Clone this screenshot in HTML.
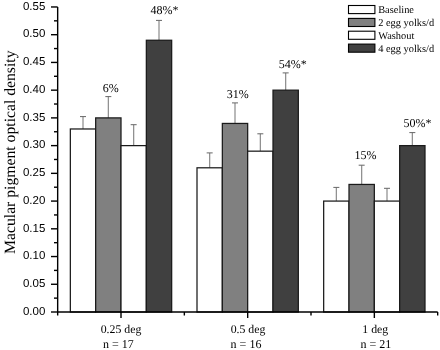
<!DOCTYPE html>
<html><head><meta charset="utf-8"><style>
html,body{margin:0;padding:0;background:#fff;}
body{width:440px;height:350px;overflow:hidden;}
svg{display:block;filter:grayscale(1);text-rendering:geometricPrecision;}
</style></head><body>
<svg width="440" height="350" viewBox="0 0 440 350">
<rect x="0" y="0" width="440" height="350" fill="#fff"/>
<line x1="83.00" y1="128.98" x2="83.00" y2="116.60" stroke="#8a8a8a" stroke-width="1.2"/>
<line x1="80.00" y1="116.60" x2="86.00" y2="116.60" stroke="#666" stroke-width="1.0"/>
<line x1="108.34" y1="117.89" x2="108.34" y2="96.60" stroke="#8a8a8a" stroke-width="1.2"/>
<line x1="105.34" y1="96.60" x2="111.34" y2="96.60" stroke="#666" stroke-width="1.0"/>
<line x1="133.67" y1="145.62" x2="133.67" y2="124.70" stroke="#8a8a8a" stroke-width="1.2"/>
<line x1="130.67" y1="124.70" x2="136.67" y2="124.70" stroke="#666" stroke-width="1.0"/>
<line x1="159.00" y1="40.25" x2="159.00" y2="20.40" stroke="#8a8a8a" stroke-width="1.2"/>
<line x1="156.00" y1="20.40" x2="162.00" y2="20.40" stroke="#666" stroke-width="1.0"/>
<line x1="209.67" y1="167.80" x2="209.67" y2="152.90" stroke="#8a8a8a" stroke-width="1.2"/>
<line x1="206.67" y1="152.90" x2="212.67" y2="152.90" stroke="#666" stroke-width="1.0"/>
<line x1="235.00" y1="123.44" x2="235.00" y2="102.90" stroke="#8a8a8a" stroke-width="1.2"/>
<line x1="232.00" y1="102.90" x2="238.00" y2="102.90" stroke="#666" stroke-width="1.0"/>
<line x1="260.34" y1="151.17" x2="260.34" y2="133.80" stroke="#8a8a8a" stroke-width="1.2"/>
<line x1="257.34" y1="133.80" x2="263.34" y2="133.80" stroke="#666" stroke-width="1.0"/>
<line x1="285.67" y1="90.16" x2="285.67" y2="72.90" stroke="#8a8a8a" stroke-width="1.2"/>
<line x1="282.67" y1="72.90" x2="288.67" y2="72.90" stroke="#666" stroke-width="1.0"/>
<line x1="336.34" y1="201.08" x2="336.34" y2="187.40" stroke="#8a8a8a" stroke-width="1.2"/>
<line x1="333.34" y1="187.40" x2="339.34" y2="187.40" stroke="#666" stroke-width="1.0"/>
<line x1="361.67" y1="184.44" x2="361.67" y2="165.20" stroke="#8a8a8a" stroke-width="1.2"/>
<line x1="358.67" y1="165.20" x2="364.67" y2="165.20" stroke="#666" stroke-width="1.0"/>
<line x1="387.00" y1="201.08" x2="387.00" y2="188.30" stroke="#8a8a8a" stroke-width="1.2"/>
<line x1="384.00" y1="188.30" x2="390.00" y2="188.30" stroke="#666" stroke-width="1.0"/>
<line x1="412.34" y1="145.62" x2="412.34" y2="132.60" stroke="#8a8a8a" stroke-width="1.2"/>
<line x1="409.34" y1="132.60" x2="415.34" y2="132.60" stroke="#666" stroke-width="1.0"/>
<rect x="70.34" y="128.98" width="25.33" height="183.02" fill="#ffffff" stroke="#1a1a1a" stroke-width="1.25"/>
<rect x="95.67" y="117.89" width="25.33" height="194.11" fill="#808080" stroke="#1a1a1a" stroke-width="1.25"/>
<rect x="121.00" y="145.62" width="25.33" height="166.38" fill="#ffffff" stroke="#1a1a1a" stroke-width="1.25"/>
<rect x="146.34" y="40.25" width="25.33" height="271.75" fill="#404040" stroke="#1a1a1a" stroke-width="1.25"/>
<rect x="197.00" y="167.80" width="25.33" height="144.20" fill="#ffffff" stroke="#1a1a1a" stroke-width="1.25"/>
<rect x="222.34" y="123.44" width="25.33" height="188.56" fill="#808080" stroke="#1a1a1a" stroke-width="1.25"/>
<rect x="247.67" y="151.17" width="25.33" height="160.83" fill="#ffffff" stroke="#1a1a1a" stroke-width="1.25"/>
<rect x="273.00" y="90.16" width="25.33" height="221.84" fill="#404040" stroke="#1a1a1a" stroke-width="1.25"/>
<rect x="323.67" y="201.08" width="25.33" height="110.92" fill="#ffffff" stroke="#1a1a1a" stroke-width="1.25"/>
<rect x="349.00" y="184.44" width="25.33" height="127.56" fill="#808080" stroke="#1a1a1a" stroke-width="1.25"/>
<rect x="374.34" y="201.08" width="25.33" height="110.92" fill="#ffffff" stroke="#1a1a1a" stroke-width="1.25"/>
<rect x="399.67" y="145.62" width="25.33" height="166.38" fill="#404040" stroke="#1a1a1a" stroke-width="1.25"/>
<line x1="57.67" y1="7" x2="57.67" y2="315.5" stroke="#000" stroke-width="1.4"/>
<line x1="57.67" y1="312.0" x2="437.67" y2="312.0" stroke="#000" stroke-width="1.4"/>
<line x1="51" y1="312.00" x2="57.67" y2="312.00" stroke="#000" stroke-width="1.4"/>
<text x="45.3" y="314.70" text-anchor="end" font-family="Liberation Sans" font-size="11.5">0.00</text>
<line x1="54" y1="298.13" x2="57.67" y2="298.13" stroke="#000" stroke-width="1.4"/>
<line x1="51" y1="284.27" x2="57.67" y2="284.27" stroke="#000" stroke-width="1.4"/>
<text x="45.3" y="286.97" text-anchor="end" font-family="Liberation Sans" font-size="11.5">0.05</text>
<line x1="54" y1="270.40" x2="57.67" y2="270.40" stroke="#000" stroke-width="1.4"/>
<line x1="51" y1="256.54" x2="57.67" y2="256.54" stroke="#000" stroke-width="1.4"/>
<text x="45.3" y="259.24" text-anchor="end" font-family="Liberation Sans" font-size="11.5">0.10</text>
<line x1="54" y1="242.68" x2="57.67" y2="242.68" stroke="#000" stroke-width="1.4"/>
<line x1="51" y1="228.81" x2="57.67" y2="228.81" stroke="#000" stroke-width="1.4"/>
<text x="45.3" y="231.51" text-anchor="end" font-family="Liberation Sans" font-size="11.5">0.15</text>
<line x1="54" y1="214.94" x2="57.67" y2="214.94" stroke="#000" stroke-width="1.4"/>
<line x1="51" y1="201.08" x2="57.67" y2="201.08" stroke="#000" stroke-width="1.4"/>
<text x="45.3" y="203.78" text-anchor="end" font-family="Liberation Sans" font-size="11.5">0.20</text>
<line x1="54" y1="187.21" x2="57.67" y2="187.21" stroke="#000" stroke-width="1.4"/>
<line x1="51" y1="173.35" x2="57.67" y2="173.35" stroke="#000" stroke-width="1.4"/>
<text x="45.3" y="176.05" text-anchor="end" font-family="Liberation Sans" font-size="11.5">0.25</text>
<line x1="54" y1="159.48" x2="57.67" y2="159.48" stroke="#000" stroke-width="1.4"/>
<line x1="51" y1="145.62" x2="57.67" y2="145.62" stroke="#000" stroke-width="1.4"/>
<text x="45.3" y="148.32" text-anchor="end" font-family="Liberation Sans" font-size="11.5">0.30</text>
<line x1="54" y1="131.75" x2="57.67" y2="131.75" stroke="#000" stroke-width="1.4"/>
<line x1="51" y1="117.89" x2="57.67" y2="117.89" stroke="#000" stroke-width="1.4"/>
<text x="45.3" y="120.59" text-anchor="end" font-family="Liberation Sans" font-size="11.5">0.35</text>
<line x1="54" y1="104.02" x2="57.67" y2="104.02" stroke="#000" stroke-width="1.4"/>
<line x1="51" y1="90.16" x2="57.67" y2="90.16" stroke="#000" stroke-width="1.4"/>
<text x="45.3" y="92.86" text-anchor="end" font-family="Liberation Sans" font-size="11.5">0.40</text>
<line x1="54" y1="76.29" x2="57.67" y2="76.29" stroke="#000" stroke-width="1.4"/>
<line x1="51" y1="62.43" x2="57.67" y2="62.43" stroke="#000" stroke-width="1.4"/>
<text x="45.3" y="65.13" text-anchor="end" font-family="Liberation Sans" font-size="11.5">0.45</text>
<line x1="54" y1="48.56" x2="57.67" y2="48.56" stroke="#000" stroke-width="1.4"/>
<line x1="51" y1="34.70" x2="57.67" y2="34.70" stroke="#000" stroke-width="1.4"/>
<text x="45.3" y="37.40" text-anchor="end" font-family="Liberation Sans" font-size="11.5">0.50</text>
<line x1="54" y1="20.83" x2="57.67" y2="20.83" stroke="#000" stroke-width="1.4"/>
<line x1="51" y1="6.97" x2="57.67" y2="6.97" stroke="#000" stroke-width="1.4"/>
<text x="45.3" y="9.67" text-anchor="end" font-family="Liberation Sans" font-size="11.5">0.55</text>
<line x1="121.00" y1="312.0" x2="121.00" y2="318" stroke="#000" stroke-width="1.4"/>
<line x1="184.34" y1="312.0" x2="184.34" y2="315.5" stroke="#000" stroke-width="1.4"/>
<line x1="247.67" y1="312.0" x2="247.67" y2="318" stroke="#000" stroke-width="1.4"/>
<line x1="311.00" y1="312.0" x2="311.00" y2="315.5" stroke="#000" stroke-width="1.4"/>
<line x1="374.34" y1="312.0" x2="374.34" y2="318" stroke="#000" stroke-width="1.4"/>
<line x1="437.67" y1="312.0" x2="437.67" y2="315.5" stroke="#000" stroke-width="1.4"/>
<text x="121.0" y="332.7" text-anchor="middle" font-family="Liberation Serif" font-size="11.8">0.25 deg</text>
<text x="118.3" y="348.2" text-anchor="middle" font-family="Liberation Serif" font-size="12">n = 17</text>
<text x="248.0" y="332.7" text-anchor="middle" font-family="Liberation Serif" font-size="11.8">0.5 deg</text>
<text x="246.0" y="348.2" text-anchor="middle" font-family="Liberation Serif" font-size="12">n = 16</text>
<text x="375.3" y="332.7" text-anchor="middle" font-family="Liberation Serif" font-size="11.8">1 deg</text>
<text x="375.8" y="348.2" text-anchor="middle" font-family="Liberation Serif" font-size="12">n = 21</text>
<text x="110.85" y="91.70" text-anchor="middle" font-family="Liberation Serif" font-size="12">6%</text>
<text x="164.60" y="14.10" text-anchor="middle" font-family="Liberation Serif" font-size="12">48%*</text>
<text x="237.85" y="98.00" text-anchor="middle" font-family="Liberation Serif" font-size="12">31%</text>
<text x="292.85" y="68.20" text-anchor="middle" font-family="Liberation Serif" font-size="12">54%*</text>
<text x="365.45" y="159.10" text-anchor="middle" font-family="Liberation Serif" font-size="12">15%</text>
<text x="417.60" y="127.10" text-anchor="middle" font-family="Liberation Serif" font-size="12">50%*</text>
<text transform="translate(14.5,152.2) rotate(-90)" text-anchor="middle" font-family="Liberation Serif" font-size="15.7">Macular pigment optical density</text>
<rect x="348.5" y="5.50" width="26.4" height="8.1" fill="#ffffff" stroke="#000" stroke-width="1.1"/>
<text x="378.2" y="13.00" font-family="Liberation Serif" font-size="10.4">Baseline</text>
<rect x="348.5" y="18.40" width="26.4" height="8.1" fill="#808080" stroke="#000" stroke-width="1.1"/>
<text x="378.2" y="25.90" font-family="Liberation Serif" font-size="10.4">2 egg yolks/d</text>
<rect x="348.5" y="31.20" width="26.4" height="8.1" fill="#ffffff" stroke="#000" stroke-width="1.1"/>
<text x="378.2" y="38.70" font-family="Liberation Serif" font-size="10.4">Washout</text>
<rect x="348.5" y="44.10" width="26.4" height="8.1" fill="#404040" stroke="#000" stroke-width="1.1"/>
<text x="378.2" y="51.60" font-family="Liberation Serif" font-size="10.4">4 egg yolks/d</text>
</svg>
</body></html>
